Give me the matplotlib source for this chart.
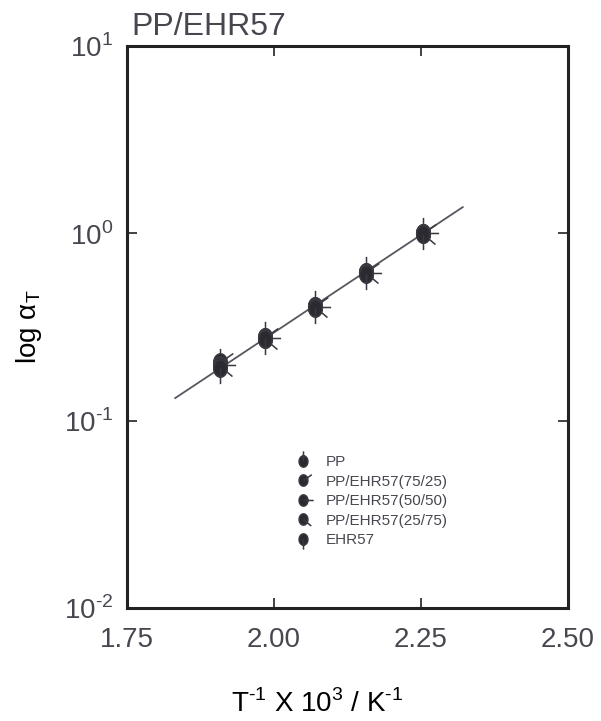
"""Shift factor vs inverse temperature for PP/EHR57 blends."""
import matplotlib
matplotlib.use("Agg")
import matplotlib.pyplot as plt
import numpy as np
from matplotlib.path import Path

# data
inv_T = [1.908, 1.985, 2.069, 2.156, 2.253]
series = ["PP", "PP/EHR57(75/25)", "PP/EHR57(50/50)", "PP/EHR57(25/75)", "EHR57"]
log_aT = {
    "PP":              [0.200, 0.278, 0.407, 0.618, 1.00],
    "PP/EHR57(75/25)": [0.205, 0.280, 0.410, 0.620, 1.00],
    "PP/EHR57(50/50)": [0.198, 0.276, 0.405, 0.615, 1.00],
    "PP/EHR57(25/75)": [0.195, 0.274, 0.403, 0.612, 0.99],
    "EHR57":           [0.192, 0.272, 0.400, 0.610, 0.99],
}
fit_x = [1.832, 2.321]
fit_y = [0.132, 1.38]
y_ticks = [1e-2, 1e-1, 1e0, 1e1]
y_ticklabels = [r"10$^{\text{-2}}$", r"10$^{\text{-1}}$", r"10$^{\text{0}}$", r"10$^{\text{1}}$"]

# tick direction (degrees) attached to each marker
TICK_ANGLE = {"PP": 90, "PP/EHR57(75/25)": 35, "PP/EHR57(50/50)": 0,
              "PP/EHR57(25/75)": -40, "EHR57": -90}

TXT = "#4a4650"
DARK = "#2b2a30"


def tick_marker(angle):
    # ellipse body plus a short stroke going outward
    t = np.linspace(0, 2 * np.pi, 41)
    ell = np.column_stack([0.78 * np.cos(t), np.sin(t)])
    codes = [Path.MOVETO] + [Path.LINETO] * 39 + [Path.CLOSEPOLY]
    a = np.deg2rad(angle)
    seg = [(0, 0), (1.8 * np.cos(a), 1.8 * np.sin(a))]
    # invisible point so all markers get the same scale
    verts = np.vstack([ell, seg, [(0, 2.0)]])
    codes = codes + [Path.MOVETO, Path.LINETO, Path.MOVETO]
    return Path(verts, codes)


plt.rcParams.update({
    "font.family": ["Liberation Sans", "DejaVu Sans"],
    "font.size": 20,
    "mathtext.fontset": "custom",
    "mathtext.rm": "Liberation Sans",
    "axes.unicode_minus": False,
    "text.color": TXT,
    "xtick.color": "#222222",
    "ytick.color": "#222222",
    "xtick.labelcolor": TXT,
    "ytick.labelcolor": TXT,
})

fig = plt.figure(figsize=(6.01, 7.21), dpi=100)
ax = fig.add_axes([127 / 601, 1 - 608 / 721, 441 / 601, 562 / 721])

ax.plot(fit_x, fit_y, color="#5a5560", lw=1.3, zorder=2)
for name in series:
    ax.plot(inv_T, log_aT[name], ls="none", marker=tick_marker(TICK_ANGLE[name]),
            ms=25, mfc=DARK, mec="#3a3840", mew=1.1, color="#3a3840",
            label=name, zorder=3)

ax.set_yscale("log")
ax.set_xlim(1.75, 2.50)
ax.set_ylim(1e-2, 1e1)
ax.set_xticks([1.75, 2.00, 2.25, 2.50])
ax.set_xticklabels(["1.75", "2.00", "2.25", "2.50"])
ax.set_yticks(y_ticks)
ax.set_yticklabels(y_ticklabels)
ax.yaxis.set_minor_locator(matplotlib.ticker.NullLocator())
ax.tick_params(which="major", direction="in", length=7, width=1.2,
               top=True, right=True, pad=10)
ax.tick_params(axis="x", pad=14)
for sp in ax.spines.values():
    sp.set_linewidth(2.2)
    sp.set_color("#222222")

ax.set_xlabel(r"T$^{\text{-1}}$ X 10$^{\text{3}}$ / K$^{\text{-1}}$")
ax.xaxis.set_label_coords(0.43, -0.145)
ax.set_ylabel(r"log α$_{\text{T}}$", labelpad=14)
ax.set_title("PP/EHR57", loc="left", x=0.01, pad=8, fontsize=23, color=TXT)

leg = ax.legend(loc="upper left", bbox_to_anchor=(0.36, 0.285), frameon=False,
                fontsize=11, markerscale=0.65, handlelength=1.2,
                handletextpad=0.9, labelspacing=0.35, borderpad=0)
for t in leg.get_texts():
    t.set_color(TXT)

fig.savefig("out.png", dpi=100, facecolor="white")
